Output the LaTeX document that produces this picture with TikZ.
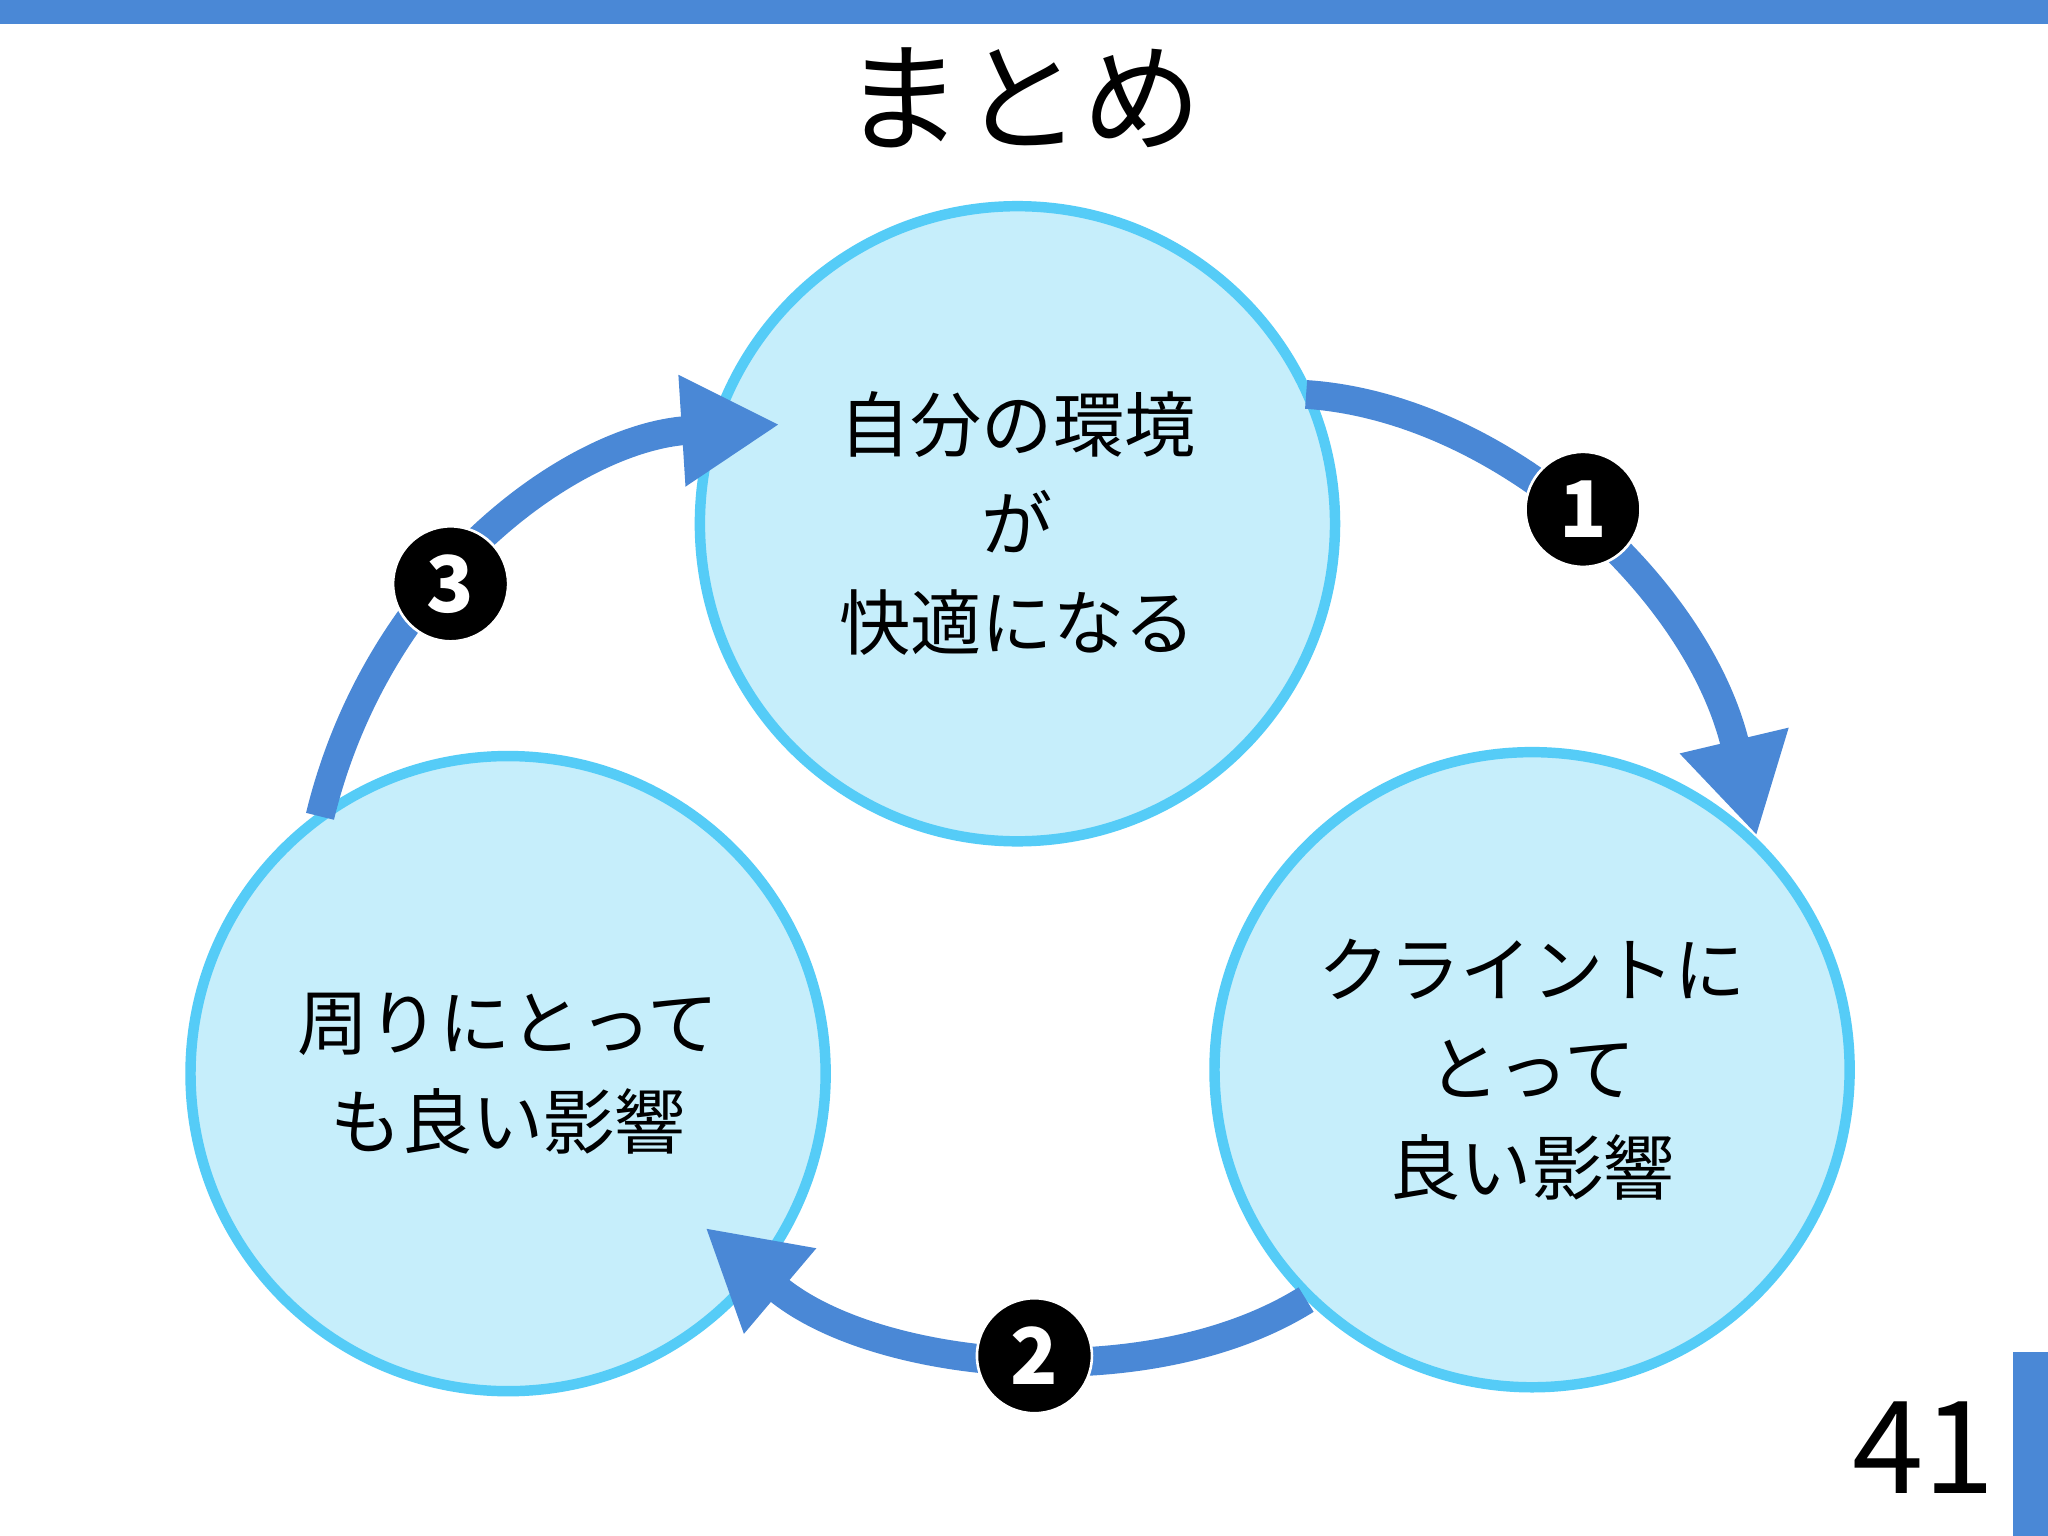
\documentclass[tikz,border=0pt]{standalone}
\usepackage{fontspec}
\setmainfont{Noto Sans CJK JP}
\usetikzlibrary{arrows.meta}
\definecolor{barblue}{HTML}{4A88D6}
\definecolor{cfill}{HTML}{C6EEFB}
\definecolor{cline}{HTML}{55CCF7}
\tikzset{
  topic/.style={circle,draw=cline,fill=cfill,line width=0.08cm,minimum size=4.86cm,
    align=center,font=\fontsize{15.5pt}{21.5pt}\selectfont},
  cycle/.style={barblue,line width=0.22cm,-{Triangle[length=0.75cm,width=0.8cm]}},
  badge/.style={circle,fill=black,draw=white,line width=0.02cm,minimum size=0.88cm,inner sep=0pt,
    text=white,font=\fontsize{17pt}{17pt}\selectfont\bfseries}
}
\begin{document}
\begin{tikzpicture}[x=0.01cm,y=-0.01cm]
\useasboundingbox[fill=white] (0,0) rectangle (1568,1176);
\fill[barblue] (0,0) rectangle (1568,18);
\fill[barblue] (1541,1035) rectangle (1568,1176);
\node[font=\fontsize{26pt}{26pt}\selectfont] (title) at (783,75) {まとめ};
\node[font=\fontsize{28pt}{28pt}\selectfont] (page) at (1473,1108) {41};
% circles
\node[topic] (self) at (779,401) {自分の環境\\が\\快適になる};
\node[topic] (client) at (1173,819) {クライントに\\とって\\良い影響};
\node[topic] (others) at (389,822) {周りにとって\\も良い影響};
% arrows
\coordinate (t1) at (1000,302);
\coordinate (h1) at (1345,640);
\coordinate (t2) at (1000,995);
\coordinate (h2) at (540,940);
\coordinate (t3) at (245,625);
\coordinate (h3) at (597,325);
\draw[cycle] (t1) .. controls (1150,312) and (1300,450) .. (h1);
\draw[cycle] (t2) .. controls (880,1070) and (670,1050) .. (h2);
\draw[cycle] (t3) .. controls (290,440) and (440,335) .. (h3);
% badges
\node[badge] (n1) at (1212,390) {1};
\node[badge] (n2) at (792,1038) {2};
\node[badge] (n3) at (345,447) {3};
\end{tikzpicture}
\end{document}
